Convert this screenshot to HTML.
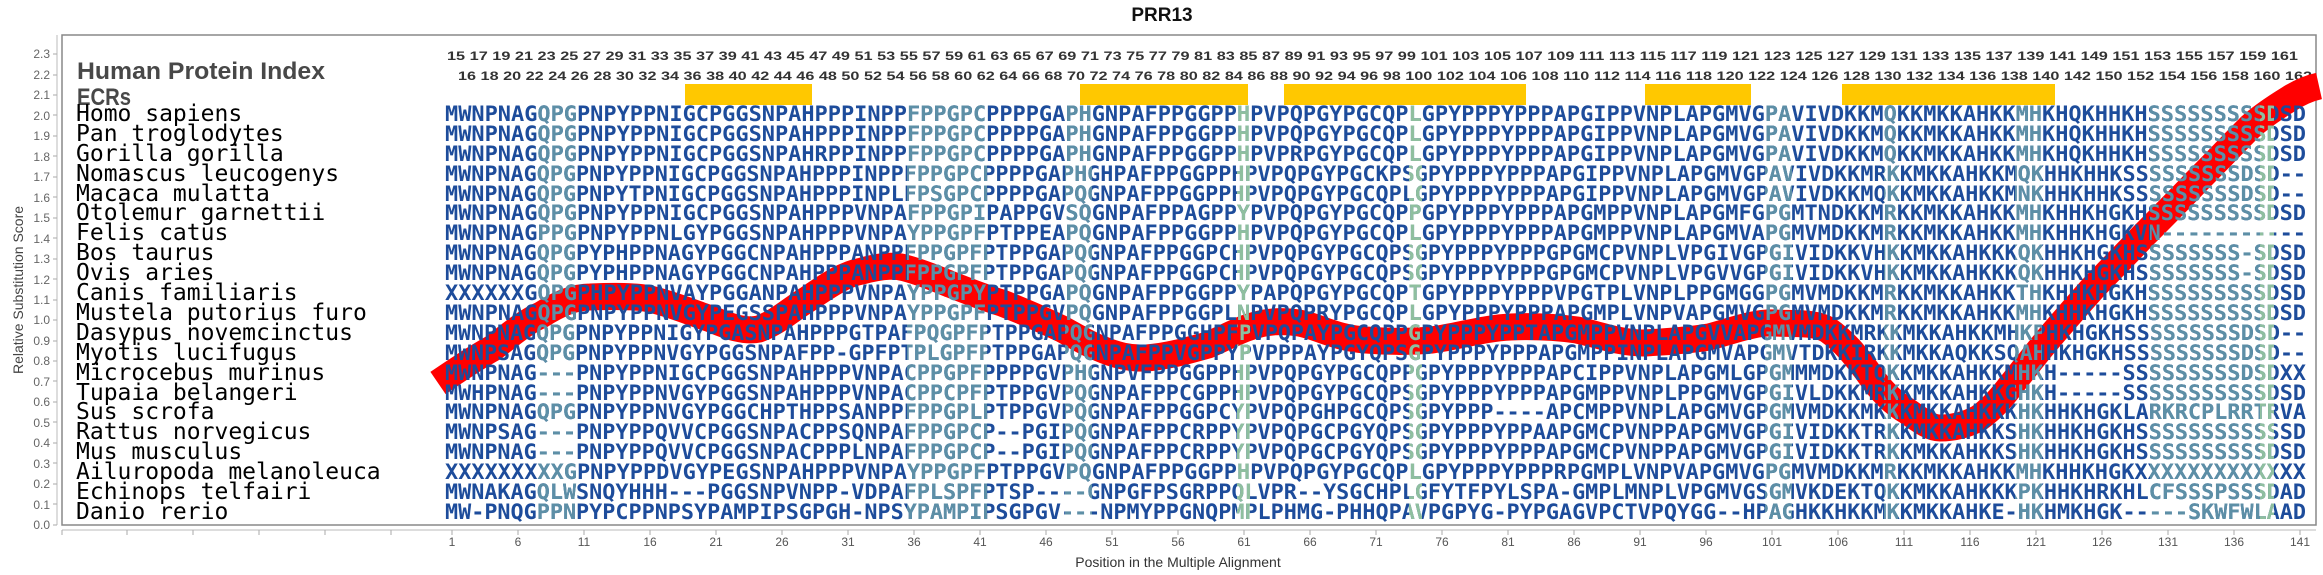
<!DOCTYPE html>
<html><head><meta charset="utf-8"><style>html,body{margin:0;padding:0;background:#fff}svg{display:block}</style></head>
<body>
<svg width="2323" height="575" viewBox="0 0 2323 575" xmlns="http://www.w3.org/2000/svg">
<defs>
<clipPath id="teal">
<rect x="537" y="100" width="40" height="420"/>
<rect x="907" y="100" width="80" height="420"/>
<rect x="1065" y="100" width="27" height="420"/>
<rect x="1765" y="100" width="27" height="420"/>
<rect x="1884" y="100" width="14" height="420"/>
<rect x="2015" y="100" width="27" height="420"/>
<rect x="2150" y="100" width="110" height="420"/>
</clipPath>
<clipPath id="green">
<rect x="1237" y="100" width="13" height="420"/>
<rect x="1409" y="100" width="13" height="420"/>
<rect x="2260" y="100" width="14" height="420"/>
</clipPath>
<g id="seq" font-family="DejaVu Sans Mono, Liberation Mono, monospace" font-weight="bold" font-size="21">
<text x="445" y="121" textLength="1861" lengthAdjust="spacingAndGlyphs">MWNPNAGQPGPNPYPPNIGCPGGSNPAHPPPINPPFPPGPCPPPPGAPHGNPAFPPGGPPHPVPQPGYPGCQPLGPYPPPYPPPAPGIPPVNPLAPGMVGPAVIVDKKMQKKMKKAHKKMHKHQKHHKHSSSSSSSSSDSD</text>
<text x="445" y="141" textLength="1861" lengthAdjust="spacingAndGlyphs">MWNPNAGQPGPNPYPPNIGCPGGSNPAHPPPINPPFPPGPCPPPPGAPHGNPAFPPGGPPHPVPQPGYPGCQPLGPYPPPYPPPAPGIPPVNPLAPGMVGPAVIVDKKMQKKMKKAHKKMHKHQKHHKHSSSSSSSSSDSD</text>
<text x="445" y="161" textLength="1861" lengthAdjust="spacingAndGlyphs">MWNPNAGQPGPNPYPPNIGCPGGSNPAHRPPINPPFPPGPCPPPPGAPHGNPAFPPGGPPHPVPRPGYPGCQPLGPYPPPYPPPAPGIPPVNPLAPGMVGPAVIVDKKMQKKMKKAHKKMHKHQKHHKHSSSSSSSSSDSD</text>
<text x="445" y="181" textLength="1861" lengthAdjust="spacingAndGlyphs">MWNPNAGQPGPNPYPPNIGCPGGSNPAHPPPINPPFPPGPCPPPPGAPHGHPAFPPGGPPHPVPQPGYPGCKPSGPYPPPYPPPAPGIPPVNPLAPGMVGPAVIVDKKMRKKMKKAHKKMQKHHKHHKSSSSSSSSSDSD--</text>
<text x="445" y="201" textLength="1861" lengthAdjust="spacingAndGlyphs">MWNPNAGQPGPNPYTPNIGCPGGSNPAHPPPINPLFPSGPCPPPPGAPQGNPAFPPGGPPHPVPQPGYPGCQPLGPYPPPYPPPAPGIPPVNPLAPGMVGPAVIVDKKMQKKMKKAHKKMNKHHKHHKSSSSSSSSSDSD--</text>
<text x="445" y="220" textLength="1861" lengthAdjust="spacingAndGlyphs">MWNPNAGQPGPNPYPPNIGCPGGSNPAHPPPVNPAFPPGPIPAPPGVSQGNPAFPPAGPPYPVPQPGYPGCQPPGPYPPPYPPPAPGMPPVNPLAPGMFGPGMTNDKKMRKKMKKAHKKMHKHHKHGKHSSSSSSSSSDSD</text>
<text x="445" y="240" textLength="1861" lengthAdjust="spacingAndGlyphs">MWNPNAGPPGPNPYPPNLGYPGGSNPAHPPPVNPAYPPGPFPTPPEAPQGNPAFPPGGPPHPVPQPGYPGCQPLGPYPPPYPPPAPGMPPVNPLAPGMVAPGMVMDKKMRKKMKKAHKKMHKHHKHGKVN-----------</text>
<text x="445" y="260" textLength="1861" lengthAdjust="spacingAndGlyphs">MWNPNAGQPGPYPHPPNAGYPGGCNPAHPPPANPPFPPGPFPTPPGAPQGNPAFPPGGPCHPVPQPGYPGCQPSGPYPPPYPPPGPGMCPVNPLVPGIVGPGIVIDKKVHKKMKKAHKKKQKHHKHGKHSSSSSSSS-SDSD</text>
<text x="445" y="280" textLength="1861" lengthAdjust="spacingAndGlyphs">MWNPNAGQPGPYPHPPNAGYPGGCNPAHPPPANPPFPPGPFPTPPGAPQGNPAFPPGGPCHPVPQPGYPGCQPSGPYPPPYPPPGPGMCPVNPLVPGVVGPGIVIDKKVHKKMKKAHKKKQKHHKHGKHSSSSSSSS-SDSD</text>
<text x="445" y="300" textLength="1861" lengthAdjust="spacingAndGlyphs">XXXXXXGQPGPHPYPPNVAYPGGANPAHPPPVNPAYPPGPYPTPPGAPQGNPAFPPGGPPYPAPQPGYPGCQPTGPYPPPYPPPVPGTPLVNPLPPGMGGPGMVMDKKMRKKMKKAHKKTHKHHKHGKHSSSSSSSSSDSD</text>
<text x="445" y="320" textLength="1861" lengthAdjust="spacingAndGlyphs">MWNPNAGQPGPNPYPPNVGYPEGSSPAHPPPVNPAYPPGPFPTPPGVPQGNPAFPPGGPLNPVPQPRYPGCQPLGPYPPPYPPPAPGMPLVNPVAPGMVGPGMVMDKKMRKKMKKAHKKMHKHHKHGKHSSSSSSSSSDSD</text>
<text x="445" y="340" textLength="1861" lengthAdjust="spacingAndGlyphs">MWNPNAGQPGPNPYPPNIGYPGASNPAHPPPGTPAFPQGPFPTPPGAPQGNPAFPPGGHPFPVPQPAYPGCQPPGPYPPPYPPTAPGMPPVNPLAPGVVAPGMVMDKKMRKKMKKAHKKMHKPHKHGKHSSSSSSSSSDSD--</text>
<text x="445" y="360" textLength="1861" lengthAdjust="spacingAndGlyphs">MWNPSAGQPGPNPYPPNVGYPGGSNPAFPP-GPFPTPLGPFPTPPGAPQGNPAFPPVGPPYPVPPPAYPGYQPSGPYPPPYPPPAPGMPPINPLAPGMVAPGMVTDKKIRKKMKKAQKKSQAHHKHGKHSSSSSSSSSDSD--</text>
<text x="445" y="380" textLength="1861" lengthAdjust="spacingAndGlyphs">MWNPNAG---PNPYPPNIGCPGGSNPAHPPPVNPACPPGPFPPPPGVPHGNPVFPPGGPPHPVPQPGYPGCQPPGPYPPPYPPPAPCIPPVNPLAPGMLGPGMMMDKKTQKKMKKAHKKMHKH-----SSSSSSSSSDSDXX</text>
<text x="445" y="400" textLength="1861" lengthAdjust="spacingAndGlyphs">MWHPNAG---PNPYPPNVGYPGGSNPAHPPPVNPACPPCPFPTPPGVPQGNPAFPPCGPPHPVPQPGYPGCQPSGPYPPPYPPPAPGMPPVNPLPPGMVGPGIVLDKKMRKKMKKAHKKGHKH-----SSSSSSSSSSSDSD</text>
<text x="445" y="419" textLength="1861" lengthAdjust="spacingAndGlyphs">MWNPNAGQPGPNPYPPNVGYPGGCHPTHPPSANPPFPPGPLPTPPGVPQGNPAFPPGGPCYPVPQPGHPGCQPSGPYPPP----APCMPPVNPLAPGMVGPGMVMDKKMKKKMKKAHKKKHKHHKHGKLARKRCPLRRTRVA</text>
<text x="445" y="439" textLength="1861" lengthAdjust="spacingAndGlyphs">MWNPSAG---PNPYPPQVVCPGGSNPACPPSQNPAFPPGPCP--PGIPQGNPAFPPCRPPYPVPQPGCPGYQPSGPYPPPYPPAAPGMCPVNPPAPGMVGPGIVIDKKTRKKMKKAHKKSHKHHKHGKHSSSSSSSSSSSSD</text>
<text x="445" y="459" textLength="1861" lengthAdjust="spacingAndGlyphs">MWNPNAG---PNPYPPQVVCPGGSNPACPPPLNPAFPPGPCP--PGIPQGNPAFPPCRPPYPVPQPGCPGYQPSGPYPPPYPPPAPGMCPVNPPAPGMVGPGIVIDKKTRKKMKKAHKKSHKHHKHGKHSSSSSSSSSSDSD</text>
<text x="445" y="479" textLength="1861" lengthAdjust="spacingAndGlyphs">XXXXXXXXXGPNPYPPDVGYPEGSNPAHPPPVNPAYPPGPFPTPPGVPQGNPAFPPGGPPHPVPQPGYPGCQPLGPYPPPYPPPRPGMPLVNPVAPGMVGPGMVMDKKMRKKMKKAHKKMHKHHKHGKXXXXXXXXXXXXX</text>
<text x="445" y="499" textLength="1861" lengthAdjust="spacingAndGlyphs">MWNAKAGQLWSNQYHHH---PGGSNPVNPP-VDPAFPLSPFPTSP----GNPGFPSGRPPQLVPR--YSGCHPLGFYTFPYLSPA-GMPLMNPLVPGMVGSGMVKDEKTQKKMKKAHKKKPKHHKHRKHLCFSSSPSSSDAD</text>
<text x="445" y="519" textLength="1861" lengthAdjust="spacingAndGlyphs">MW-PNQGPPNPYPCPPNPSYPAMPIPSGPGH-NPSYPAMPIPSGPGV---NPMYPPGNQPMPLPHMG-PHHQPAVPGPYG-PYPGAGVPCTVPQYGG--HPAGHKKHKKMKKMKKAHKE-HKHMKHGK-----SKWFWLAAD</text>
</g>
</defs>
<rect width="2323" height="575" fill="#fff"/>
<text x="1162" y="21" font-family="Liberation Sans, sans-serif" font-weight="bold" font-size="19" text-anchor="middle" fill="#111">PRR13</text>
<rect x="62" y="35" width="2254" height="490" fill="none" stroke="#888" stroke-width="1.5"/>
<line x1="57" y1="35" x2="57" y2="525" stroke="#bbb"/>
<line x1="62" y1="530" x2="2316" y2="530" stroke="#bbb"/>
<g font-family="Liberation Sans, sans-serif" font-size="12" fill="#666" text-anchor="end">
<text x="50" y="58">2.3</text><text x="50" y="79">2.2</text><text x="50" y="99">2.1</text><text x="50" y="120">2.0</text><text x="50" y="140">1.9</text><text x="50" y="161">1.8</text><text x="50" y="181">1.7</text><text x="50" y="202">1.6</text><text x="50" y="222">1.5</text><text x="50" y="243">1.4</text><text x="50" y="263">1.3</text><text x="50" y="284">1.2</text><text x="50" y="304">1.1</text><text x="50" y="324">1.0</text><text x="50" y="345">0.9</text><text x="50" y="365">0.8</text><text x="50" y="386">0.7</text><text x="50" y="406">0.6</text><text x="50" y="427">0.5</text><text x="50" y="447">0.4</text><text x="50" y="468">0.3</text><text x="50" y="488">0.2</text><text x="50" y="509">0.1</text><text x="50" y="529">0.0</text>
</g>
<g stroke="#aaa"><path d="M53 54h4M53 75h4M53 95h4M53 115h4M53 136h4M53 156h4M53 177h4M53 197h4M53 218h4M53 238h4M53 259h4M53 279h4M53 300h4M53 320h4M53 341h4M53 361h4M53 381h4M53 402h4M53 422h4M53 443h4M53 463h4M53 484h4M53 504h4M53 525h4"/></g>
<text transform="translate(23,290) rotate(-90)" font-family="Liberation Sans, sans-serif" font-size="14" fill="#444" text-anchor="middle">Relative Substitution Score</text>
<g stroke="#aaa"><path d="M62 530v5M127 530v5M193 530v5M259 530v5M325 530v5M391 530v5M452 530v5M518 530v5M584 530v5M650 530v5M716 530v5M782 530v5M848 530v5M914 530v5M980 530v5M1046 530v5M1112 530v5M1178 530v5M1244 530v5M1310 530v5M1376 530v5M1442 530v5M1508 530v5M1574 530v5M1640 530v5M1706 530v5M1772 530v5M1838 530v5M1904 530v5M1970 530v5M2036 530v5M2102 530v5M2168 530v5M2234 530v5M2300 530v5"/></g>
<g font-family="Liberation Sans, sans-serif" font-size="12" fill="#555" text-anchor="middle">
<text x="452" y="546">1</text><text x="518" y="546">6</text><text x="584" y="546">11</text><text x="650" y="546">16</text><text x="716" y="546">21</text><text x="782" y="546">26</text><text x="848" y="546">31</text><text x="914" y="546">36</text><text x="980" y="546">41</text><text x="1046" y="546">46</text><text x="1112" y="546">51</text><text x="1178" y="546">56</text><text x="1244" y="546">61</text><text x="1310" y="546">66</text><text x="1376" y="546">71</text><text x="1442" y="546">76</text><text x="1508" y="546">81</text><text x="1574" y="546">86</text><text x="1640" y="546">91</text><text x="1706" y="546">96</text><text x="1772" y="546">101</text><text x="1838" y="546">106</text><text x="1904" y="546">111</text><text x="1970" y="546">116</text><text x="2036" y="546">121</text><text x="2102" y="546">126</text><text x="2168" y="546">131</text><text x="2234" y="546">136</text><text x="2300" y="546">141</text>
</g>
<text x="1178" y="567" font-family="Liberation Sans, sans-serif" font-size="14" fill="#333" text-anchor="middle">Position in the Multiple Alignment</text>
<text x="77" y="79" font-family="Liberation Sans, sans-serif" font-weight="bold" font-size="24" fill="#484848" textLength="248" lengthAdjust="spacingAndGlyphs">Human Protein Index</text>
<text x="77" y="105" font-family="Liberation Sans, sans-serif" font-weight="bold" font-size="24" fill="#484848" textLength="54" lengthAdjust="spacingAndGlyphs">ECRs</text>
<g font-family="Liberation Sans, sans-serif" font-weight="bold" font-size="12" fill="#333">
<text x="447" y="60" textLength="1851" lengthAdjust="spacingAndGlyphs">15 17 19 21 23 25 27 29 31 33 35 37 39 41 43 45 47 49 51 53 55 57 59 61 63 65 67 69 71 73 75 77 79 81 83 85 87 89 91 93 95 97 99 101 103 105 107 109 111 113 115 117 119 121 123 125 127 129 131 133 135 137 139 141 149 151 153 155 157 159 161</text>
<text x="458" y="80" textLength="1854" lengthAdjust="spacingAndGlyphs">16 18 20 22 24 26 28 30 32 34 36 38 40 42 44 46 48 50 52 54 56 58 60 62 64 66 68 70 72 74 76 78 80 82 84 86 88 90 92 94 96 98 100 102 104 106 108 110 112 114 116 118 120 122 124 126 128 130 132 134 136 138 140 142 150 152 154 156 158 160 162</text>
</g>
<g fill="#ffc800">
<rect x="685" y="84" width="127" height="21"/><rect x="1080" y="84" width="168" height="21"/><rect x="1284" y="84" width="242" height="21"/><rect x="1645" y="84" width="106" height="21"/><rect x="1842" y="84" width="213" height="21"/>
</g>
<g font-family="DejaVu Sans Mono, Liberation Mono, monospace" font-size="23" fill="#000">
<text x="76" y="121">Homo sapiens</text>
<text x="76" y="141">Pan troglodytes</text>
<text x="76" y="161">Gorilla gorilla</text>
<text x="76" y="181">Nomascus leucogenys</text>
<text x="76" y="201">Macaca mulatta</text>
<text x="76" y="220">Otolemur garnettii</text>
<text x="76" y="240">Felis catus</text>
<text x="76" y="260">Bos taurus</text>
<text x="76" y="280">Ovis aries</text>
<text x="76" y="300">Canis familiaris</text>
<text x="76" y="320">Mustela putorius furo</text>
<text x="76" y="340">Dasypus novemcinctus</text>
<text x="76" y="360">Myotis lucifugus</text>
<text x="76" y="380">Microcebus murinus</text>
<text x="76" y="400">Tupaia belangeri</text>
<text x="76" y="419">Sus scrofa</text>
<text x="76" y="439">Rattus norvegicus</text>
<text x="76" y="459">Mus musculus</text>
<text x="76" y="479">Ailuropoda melanoleuca</text>
<text x="76" y="499">Echinops telfairi</text>
<text x="76" y="519">Danio rerio</text>
</g>
<path d="M438 383 C460 368 475 358 493 348 C510 335 525 322 541 315 C560 303 575 297 590 297 C615 296 635 296 650 299 C675 305 695 314 711 319 C730 327 745 332 759 329 C778 322 790 310 808 299 C830 284 845 274 862 271 C880 266 895 265 905 268 C920 272 935 278 947 283 C965 290 985 298 1002 303 C1025 312 1045 321 1062 329 C1075 336 1088 344 1099 348 C1115 355 1130 359 1147 358 C1170 356 1190 350 1208 345 C1225 338 1240 329 1256 325 C1270 321 1285 321 1299 323 C1320 327 1335 338 1366 340 C1390 342 1410 342 1432 340 C1460 336 1485 328 1511 327 C1535 326 1555 327 1577 330 C1600 335 1620 343 1643 343 C1665 342 1690 340 1709 337 C1735 330 1755 322 1775 323 C1795 324 1815 322 1828 330 C1845 342 1855 355 1867 371 C1880 390 1893 403 1907 411 C1920 420 1930 428 1940 428 C1955 428 1968 424 1979 418 C1993 408 2003 396 2012 384 C2025 368 2035 355 2045 343 C2060 325 2076 307 2092 289 C2110 270 2127 253 2144 235 C2162 217 2180 199 2197 181 C2215 163 2232 145 2250 127 C2262 116 2276 107 2289 99 C2300 92 2310 88 2319 86" fill="none" stroke="#ff0000" stroke-width="27"/>
<g fill="#1d4c9b"><use href="#seq"/></g>
<g fill="#5d8fa6" clip-path="url(#teal)"><use href="#seq"/></g>
<g fill="#8fbf9f" clip-path="url(#green)"><use href="#seq"/></g>
</svg>
</body></html>
